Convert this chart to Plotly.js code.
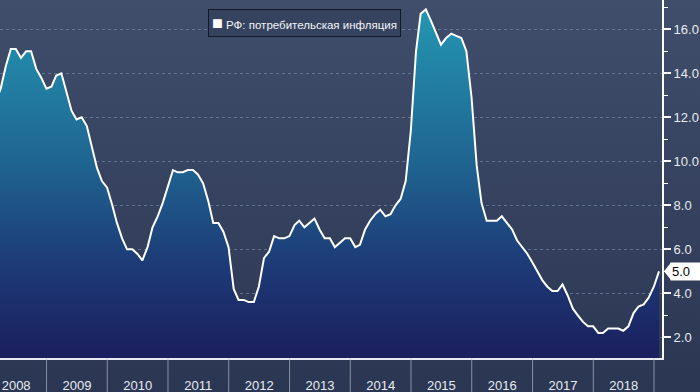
<!DOCTYPE html>
<html>
<head>
<meta charset="utf-8">
<script src="https://cdn.plot.ly/plotly-3.0.1.min.js"></script>
<style>html,body{margin:0;padding:0;background:#2d3954;}#chart{width:700px;height:392px;}</style>
</head>
<body>
<div id="chart"></div>
<script>
// Monthly y/y consumer inflation, Russia (month-end), Jan 2008 .. Jan 2019
const startYear = 2008;
const cpi2008 = [12.6, 12.7, 13.3, 14.3, 15.1, 15.1, 14.7, 15.0, 15.0, 14.2, 13.8, 13.3];
const cpi2009 = [13.4, 13.9, 14.0, 13.2, 12.3, 11.9, 12.0, 11.6, 10.7, 9.7, 9.1, 8.8];
const cpi2010 = [8.0, 7.2, 6.5, 6.0, 6.0, 5.8, 5.5, 6.1, 7.0, 7.5, 8.1, 8.8];
const cpi2011 = [9.6, 9.5, 9.5, 9.6, 9.6, 9.4, 9.0, 8.2, 7.2, 7.2, 6.8, 6.1];
const cpi2012 = [4.2, 3.7, 3.7, 3.6, 3.6, 4.3, 5.6, 5.9, 6.6, 6.5, 6.5, 6.6];
const cpi2013 = [7.1, 7.3, 7.0, 7.2, 7.4, 6.9, 6.5, 6.5, 6.1, 6.3, 6.5, 6.5];
const cpi2014 = [6.1, 6.2, 6.9, 7.3, 7.6, 7.8, 7.5, 7.6, 8.0, 8.3, 9.1, 11.4];
const cpi2015 = [15.0, 16.7, 16.9, 16.4, 15.8, 15.3, 15.6, 15.8, 15.7, 15.6, 15.0, 12.9];
const cpi2016 = [9.8, 8.1, 7.3, 7.3, 7.3, 7.5, 7.2, 6.9, 6.4, 6.1, 5.8, 5.4];
const cpi2017 = [5.0, 4.6, 4.3, 4.1, 4.1, 4.4, 3.9, 3.3, 3.0, 2.7, 2.5, 2.5];
const cpi2018 = [2.2, 2.2, 2.4, 2.4, 2.4, 2.3, 2.5, 3.1, 3.4, 3.5, 3.8, 4.3];
const cpi2019 = [5.0];
const seriesName = 'РФ: потребительская инфляция';
const yearLabels = ['2009','2010','2011','2012','2013','2014','2015','2016','2017','2018','2019'];
const yTicks = [2, 4, 6, 8, 10, 12, 14, 16];

const values = [].concat(cpi2008, cpi2009, cpi2010, cpi2011, cpi2012, cpi2013,
                         cpi2014, cpi2015, cpi2016, cpi2017, cpi2018, cpi2019);
const pad = n => String(n).padStart(2, '0');
const dates = values.map((v, i) => {
  const y = startYear + Math.floor(i / 12), m = i % 12;
  const last = new Date(Date.UTC(y, m + 1, 0)).getUTCDate();
  return `${y}-${pad(m + 1)}-${pad(last)}`;
});
const lastVal = values[values.length - 1];

const Y0 = 1.06, Y1 = 17.33;
const FONT = 'Liberation Sans, Arial, sans-serif';

const trace = {
  type: 'scatter', mode: 'lines', x: dates, y: values, name: seriesName,
  line: {color: '#ffffff', width: 2},
  fill: 'tozeroy',
  fillgradient: {
    type: 'vertical', start: Y0, stop: Y1,
    colorscale: [[0, '#1b1f5e'], [0.25, '#1d3976'], [0.55, '#1f6591'], [1, '#2499b4']]
  },
  hoverinfo: 'skip', showlegend: false
};

const bgSvg = "<svg xmlns='http://www.w3.org/2000/svg' viewBox='0 0 10 100' preserveAspectRatio='none' width='10' height='100'>" +
  "<defs><linearGradient id='g' x1='0' y1='0' x2='0' y2='1'>" +
  "<stop offset='0' stop-color='#404e6b'/><stop offset='1' stop-color='#2b3652'/></linearGradient></defs>" +
  "<rect x='0' y='0' width='10' height='100' fill='url(#g)'/></svg>";

const W = 700, H = 392, mR = 38, mB = 34;
const pw = W - mR, ph = H - mB;

const shapes = yearLabels.map(y => ({
  type: 'line', xref: 'x', yref: 'paper', x0: `${y}-01-01`, x1: `${y}-01-01`,
  y0: -mB / ph, y1: 0, line: {color: 'rgba(185,193,208,0.65)', width: 1}
}));
// pointer of the last-value tag
const dy = 0.40;
shapes.push({
  type: 'path', xref: 'paper', yref: 'y', fillcolor: '#ffffff', line: {width: 0},
  path: `M ${1 + 2 / pw},${lastVal} L ${1 + 9 / pw},${lastVal + dy} L ${1 + 9 / pw},${lastVal - dy} Z`
});

const layout = {
  width: W, height: H,
  margin: {l: 0, r: mR, t: 0, b: mB, pad: 0},
  paper_bgcolor: '#2d3954', plot_bgcolor: 'rgba(0,0,0,0)',
  showlegend: false,
  font: {family: FONT, color: '#e8ecf2', size: 13},
  images: [{
    source: 'data:image/svg+xml;charset=utf-8,' + encodeURIComponent(bgSvg),
    xref: 'paper', yref: 'paper', x: 0, y: 1, sizex: W / pw, sizey: H / ph,
    xanchor: 'left', yanchor: 'top', sizing: 'stretch', layer: 'below'
  }],
  xaxis: {
    type: 'date', range: ['2008-03-27', '2019-02-18'],
    tick0: '2008-01-01', dtick: 'M12', ticklabelmode: 'period', tickformat: '%Y',
    ticks: '', showgrid: false, zeroline: false,
    showline: true, linecolor: '#e8ecf2', linewidth: 2,
    tickfont: {family: FONT, size: 13, color: '#e8ecf2'},
    ticklabelstandoff: 14,
    minor: {tick0: '2010-01-01', dtick: 'M24', showgrid: true,
            gridcolor: 'rgba(125,155,185,0.55)', griddash: 'dot', gridwidth: 1, ticks: ''},
    fixedrange: true
  },
  yaxis: {
    side: 'right', range: [Y0, Y1],
    tickmode: 'array', tickvals: yTicks, tickformat: '.1f',
    ticks: 'outside', ticklen: 7, tickwidth: 2, tickcolor: '#ffffff',
    showline: true, linecolor: '#ffffff', linewidth: 2,
    showgrid: true, gridcolor: 'rgba(125,155,185,0.55)', griddash: 'dot', gridwidth: 1,
    zeroline: false,
    minor: {tick0: 1, dtick: 2, ticks: 'outside', ticklen: 4, tickwidth: 1, tickcolor: '#ffffff', showgrid: false},
    tickfont: {family: FONT, size: 13, color: '#e8ecf2'},
    fixedrange: true
  },
  shapes: shapes,
  annotations: [
    {
      xref: 'paper', yref: 'paper', x: 208 / pw, y: 1 - 9 / ph, xanchor: 'left', yanchor: 'top',
      text: "<span style='font-size:18px;color:#ffffff'>■</span> " + seriesName,
      showarrow: false, align: 'left',
      font: {family: FONT, size: 11.5, color: '#f2f4f7'},
      bgcolor: '#36435f', bordercolor: '#121826', borderwidth: 1, borderpad: 3
    },
    {
      xref: 'paper', yref: 'y', x: 1 + 8 / pw, y: lastVal, xanchor: 'left', yanchor: 'middle',
      text: lastVal.toFixed(1), showarrow: false, align: 'left',
      font: {family: FONT, size: 13, color: '#000000'},
      bgcolor: '#ffffff', borderpad: 1, width: 28
    }
  ]
};

Plotly.newPlot('chart', [trace], layout, {displayModeBar: false, staticPlot: true});
</script>
</body>
</html>
